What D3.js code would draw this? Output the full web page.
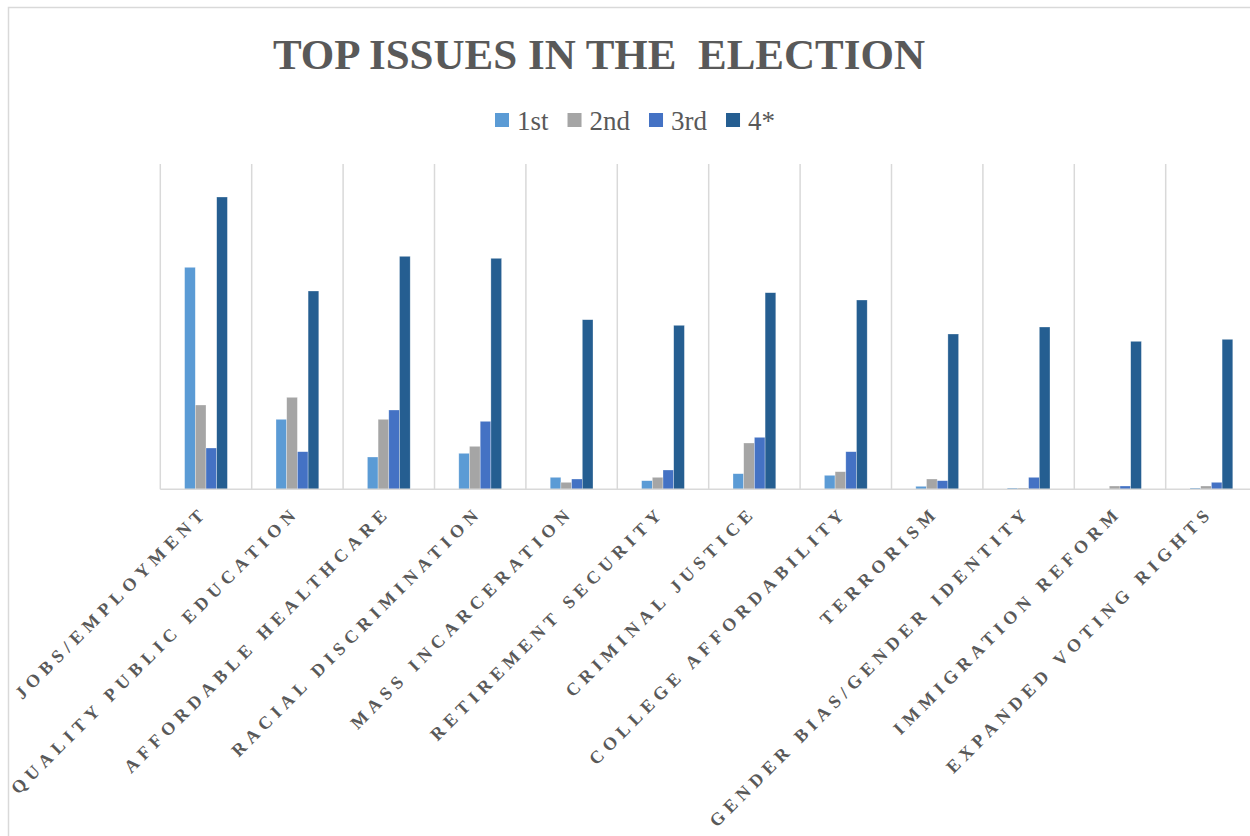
<!DOCTYPE html>
<html>
<head>
<meta charset="utf-8">
<script src="https://cdn.jsdelivr.net/npm/d3@7"></script>
<style>
  html, body { margin: 0; padding: 0; background: #fff; }
  svg { display: block; }
</style>
</head>
<body>
<svg id="chart" width="1250" height="836"></svg>
<script>
// ---- data ----
const categories = [
  "JOBS/EMPLOYMENT", "QUALITY PUBLIC EDUCATION", "AFFORDABLE HEALTHCARE",
  "RACIAL DISCRIMINATION", "MASS INCARCERATION", "RETIREMENT SECURITY",
  "CRIMINAL JUSTICE", "COLLEGE AFFORDABILITY", "TERRORISM",
  "GENDER BIAS/GENDER IDENTITY", "IMMIGRATION REFORM", "EXPANDED VOTING RIGHTS"
];
const seriesNames = ["1st", "2nd", "3rd", "4*"];
const first  = [222, 70, 32.3, 36, 12, 8.6, 15.6, 14, 3, 1.3, 0, 1.3];
const second = [84.3, 92, 70, 43, 7, 12, 46.3, 17.6, 10.3, 1.3, 3.3, 3.3];
const third  = [41.3, 37.6, 79.3, 68, 10.3, 19.3, 52, 37.6, 8.6, 12, 3.3, 7];
const fourth = [292.3, 198.3, 233, 231, 169.6, 164, 196.6, 189.3, 155.3, 162.3, 148, 150];
const seriesColors = ["#5B9BD5", "#A5A5A5", "#4472C4", "#255E91"];
const titleText = "TOP ISSUES IN THE  ELECTION";

const seriesValues = [first, second, third, fourth];
const serif = "'Liberation Serif', 'Times New Roman', Times, serif";

// ---- layout ----
const svg = d3.select("#chart");
const W = 1250, H = 836;
const plotLeft = 160.3, bandW = 91.4;
const plotTop = 164, plotBottom = 489.3;

// chart frame
svg.append("rect")
  .attr("x", 8.5).attr("y", 7.5)
  .attr("width", 1260).attr("height", 840)
  .attr("fill", "#fff").attr("stroke", "#d9d9d9").attr("stroke-width", 1.5);

const x = d3.scaleBand().domain(categories)
  .range([plotLeft, plotLeft + bandW * categories.length])
  .paddingInner(0).paddingOuter(0);

const groupW = 42.8;
const xs = d3.scaleBand().domain(seriesNames)
  .range([(x.bandwidth() - groupW) / 2, (x.bandwidth() + groupW) / 2])
  .padding(0);

const y = d3.scaleLinear().domain([0, 325.3]).range([plotBottom, plotTop]);

// vertical gridlines at category boundaries
const gridXs = categories.map(c => x(c));
svg.append("g").selectAll("line").data(gridXs).join("line")
  .attr("x1", d => d).attr("x2", d => d)
  .attr("y1", plotTop).attr("y2", plotBottom)
  .attr("stroke", "#d9d9d9").attr("stroke-width", 1.5);

// bars
const barData = [];
categories.forEach((c, i) => {
  seriesNames.forEach((s, j) => {
    barData.push({ cat: c, series: s, value: seriesValues[j][i], color: seriesColors[j] });
  });
});
svg.append("g").selectAll("rect").data(barData.filter(d => d.value > 0)).join("rect")
  .attr("x", d => x(d.cat) + xs(d.series))
  .attr("width", xs.bandwidth())
  .attr("y", d => y(d.value))
  .attr("height", d => y(0) - y(d.value))
  .attr("fill", d => d.color)
  .attr("stroke", "#ffffff").attr("stroke-opacity", 0.5).attr("stroke-width", 0.6);

// x axis baseline
svg.append("line")
  .attr("x1", plotLeft).attr("x2", W)
  .attr("y1", plotBottom).attr("y2", plotBottom)
  .attr("stroke", "#d9d9d9").attr("stroke-width", 1.5);

// category labels, rotated
const ls = 5.4;
svg.append("g").selectAll("text").data(categories).join("text")
  .attr("transform", d => `translate(${x(d) + x.bandwidth() / 2 - 1},${plotBottom + 28}) rotate(-45)`)
  .attr("text-anchor", "end")
  .attr("dx", ls)
  .attr("font-family", serif)
  .attr("font-size", 18)
  .attr("font-weight", "bold")
  .style("letter-spacing", ls + "px")
  .attr("fill", "#595959")
  .text(d => d);

// title
svg.append("text")
  .attr("x", 599).attr("y", 69)
  .attr("text-anchor", "middle")
  .attr("font-family", serif)
  .attr("font-size", 43).attr("font-weight", "bold")
  .style("white-space", "pre")
  .attr("fill", "#595959")
  .text(titleText);

// legend
const legend = svg.append("g");
let lx = 495;
seriesNames.forEach((s, j) => {
  legend.append("rect").attr("x", lx).attr("y", 113).attr("width", 14).attr("height", 14)
    .attr("fill", seriesColors[j]);
  const t = legend.append("text").attr("x", lx + 22).attr("y", 129.5)
    .attr("font-family", serif)
    .attr("font-size", 27).attr("fill", "#595959").text(s);
  lx += 22 + t.node().getComputedTextLength() + 19;
});
</script>
</body>
</html>
